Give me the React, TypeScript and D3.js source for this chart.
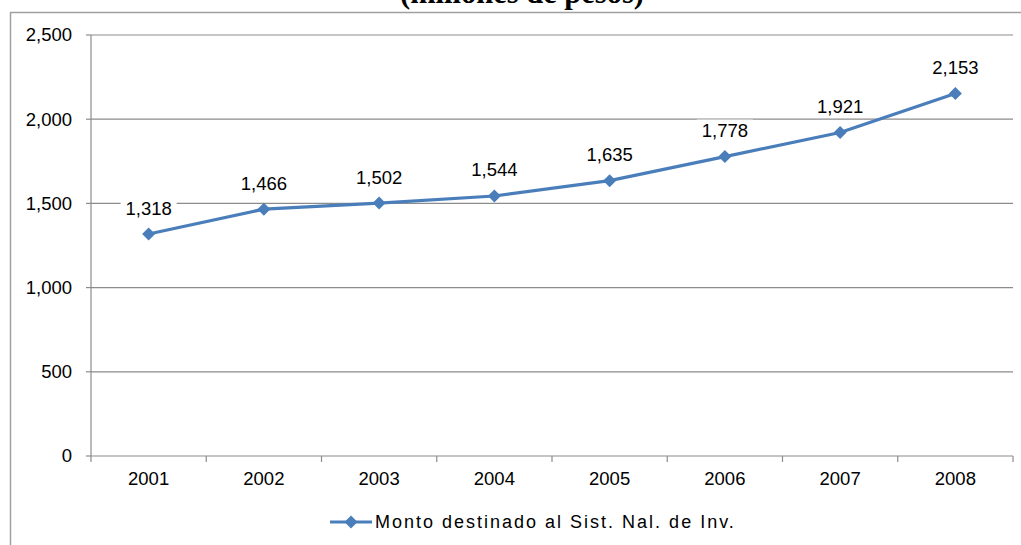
import React from "react";
import * as d3 from "d3";

const years = ["2001", "2002", "2003", "2004", "2005", "2006", "2007", "2008"];
const montos = [1318, 1466, 1502, 1544, 1635, 1778, 1921, 2153];
const yTicks = [0, 500, 1000, 1500, 2000, 2500];
const titleText = "(millones de pesos)";
const legendText = "Monto destinado al Sist. Nal. de Inv.";

const W = 1021;
const H = 545;
const left = 91;
const right = 1013;
const top = 35;
const bottom = 456;
const lineColor = "#4a7ebb";
const gridColor = "#8c8c8c";
const font = "Arial, 'Liberation Sans', sans-serif";

export default function App() {
  const x = d3.scaleBand<string>().domain(years).range([left, right]);
  const y = d3.scaleLinear().domain([0, 2500]).range([bottom, top]);
  const fmt = d3.format(",");
  const pts = years.map((yr, i) => [x(yr)! + x.bandwidth() / 2, y(montos[i])] as [number, number]);
  const line = d3.line()(pts) || "";
  const diamond = (cx: number, cy: number, r: number) =>
    `M${cx},${cy - r}L${cx + r},${cy}L${cx},${cy + r}L${cx - r},${cy}Z`;
  const boundaries = d3.range(years.length + 1).map((i) => left + i * x.step());

  return (
    <svg width={W} height={H} style={{ position: "absolute", left: 0, top: 0, background: "#fff" }}>
      <rect x={0} y={0} width={W} height={H} fill="#fff" />
      <text x={522} y={3} textAnchor="middle" fontFamily="'Liberation Serif', 'Times New Roman', serif" fontWeight="bold" fontSize={30.5} fill="#000">
        {titleText}
      </text>
      {/* frame */}
      <path d={`M10.5,${H}V12.5H${W}`} fill="none" stroke="#a0a0a0" strokeWidth={1.5} />
      {/* gridlines */}
      {yTicks.filter((t) => t > 0).map((t) => (
        <line key={t} x1={left} x2={right} y1={y(t)} y2={y(t)} stroke={gridColor} strokeWidth={1.2} />
      ))}
      {/* y axis */}
      <line x1={left} x2={left} y1={top} y2={bottom} stroke={gridColor} strokeWidth={1.2} />
      {yTicks.map((t) => (
        <g key={"yt" + t}>
          <line x1={left - 5} x2={left} y1={y(t)} y2={y(t)} stroke={gridColor} strokeWidth={1.2} />
          <text x={72} y={y(t)} dy="0.35em" textAnchor="end" fontFamily={font} fontSize={18.5} fill="#000">
            {fmt(t)}
          </text>
        </g>
      ))}
      {/* x axis */}
      <line x1={left} x2={right} y1={bottom} y2={bottom} stroke={gridColor} strokeWidth={1.2} />
      {boundaries.map((bx, i) => (
        <line key={"xt" + i} x1={bx} x2={bx} y1={bottom} y2={bottom + 6} stroke={gridColor} strokeWidth={1.2} />
      ))}
      {years.map((yr) => (
        <text key={yr} x={x(yr)! + x.bandwidth() / 2} y={bottom + 29} textAnchor="middle" fontFamily={font} fontSize={18.5} fill="#000">
          {yr}
        </text>
      ))}
      {/* series */}
      <path d={line} fill="none" stroke={lineColor} strokeWidth={3.2} strokeLinejoin="round" />
      {pts.map(([cx, cy], i) => (
        <path key={"m" + i} d={diamond(cx, cy, 6.5)} fill={lineColor} />
      ))}
      {/* data labels */}
      {pts.map(([cx, cy], i) => (
        <g key={"l" + i}>
          <rect x={cx - 28} y={cy - 37} width={56} height={22} fill="#fff" />
          <text x={cx} y={cy - 26} dy="0.35em" textAnchor="middle" fontFamily={font} fontSize={18.5} fill="#000">
            {fmt(montos[i])}
          </text>
        </g>
      ))}
      {/* legend */}
      <line x1={330} x2={372} y1={522} y2={522} stroke={lineColor} strokeWidth={3} />
      <path d={diamond(351, 522, 6.5)} fill={lineColor} />
      <text x={375} y={522} dy="0.35em" fontFamily={font} fontSize={18} letterSpacing={2} fill="#000">
        {legendText}
      </text>
    </svg>
  );
}
